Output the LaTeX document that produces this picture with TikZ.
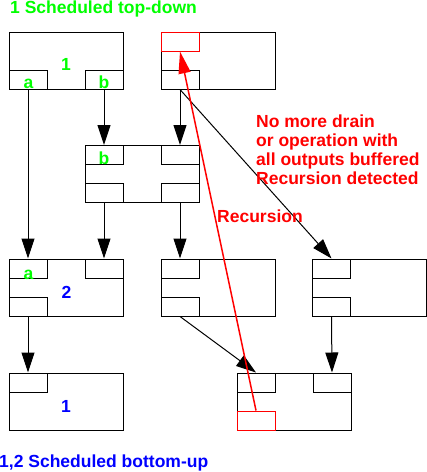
\documentclass[tikz,border=0pt]{standalone}
\usepackage{fontspec}
\setmainfont{Liberation Sans}
\usetikzlibrary{arrows.meta}
\definecolor{fgreen}{RGB}{0,255,0}
\definecolor{fred}{RGB}{255,0,0}
\definecolor{fblue}{RGB}{0,0,255}
\tikzset{
  opbox/.style={draw=black, line width=1pt, rectangle, inner sep=0pt, minimum width=114pt, minimum height=57pt},
  subbox/.style={draw=black, line width=1pt, rectangle, inner sep=0pt, minimum width=38pt, minimum height=19pt},
  redsub/.style={subbox, draw=fred},
  lbl/.style={inner sep=0pt, font=\bfseries\fontsize{17.5}{19}\selectfont},
  arr/.style={line width=1pt, -{Triangle[length=20pt,width=13pt]}},
  redarr/.style={draw=fred, line width=1.5pt, -{Triangle[length=22pt,width=12pt]}, fill=fred},
}
\begin{document}
\begin{tikzpicture}[x=1pt, y=-1pt]
\useasboundingbox (0,0) rectangle (427,472);
% boxes
\node[opbox] (A) at (66,60.5) {};
\node[opbox] (B) at (218,60.5) {};
\node[opbox] (C) at (142,174) {};
\node[opbox] (D) at (66,287.5) {};
\node[opbox] (E) at (218,287.5) {};
\node[opbox] (F) at (369.5,287.5) {};
\node[opbox] (G) at (66,401.5) {};
\node[opbox] (H) at (294,401.5) {};
% sub boxes
\node[subbox, anchor=south west] (Aa) at (A.south west) {};
\node[subbox, anchor=south east] (Ab) at (A.south east) {};
\node[subbox, anchor=south west] (Bbl) at (B.south west) {};
\node[subbox, anchor=north west] (Ctl) at (C.north west) {};
\node[subbox, anchor=north east] (Ctr) at (C.north east) {};
\node[subbox, anchor=south west] (Cbl) at (C.south west) {};
\node[subbox, anchor=south east] (Cbr) at (C.south east) {};
\node[subbox, anchor=north west] (Dtl) at (D.north west) {};
\node[subbox, anchor=north east] (Dtr) at (D.north east) {};
\node[subbox, anchor=south west] (Dbl) at (D.south west) {};
\node[subbox, anchor=north west] (Etl) at (E.north west) {};
\node[subbox, anchor=south west] (Ebl) at (E.south west) {};
\node[subbox, anchor=north west] (Ftl) at (F.north west) {};
\node[subbox, anchor=south west] (Fbl) at (F.south west) {};
\node[subbox, anchor=north west] (Gtl) at (G.north west) {};
\node[subbox, anchor=north west] (Htl) at (H.north west) {};
\node[subbox, anchor=north east] (Htr) at (H.north east) {};
\node[redsub, anchor=north west] (Btl) at (B.north west) {};
\node[redsub, anchor=south west] (Hbl) at (H.south west) {};
% labels in boxes
\node[lbl, text=fgreen, anchor=base] (l1) at (66,70) {1};
\node[lbl, text=fgreen, anchor=base] (la1) at (28.5,88) {a};
\node[lbl, text=fgreen, anchor=base] (lb1) at (104,88) {b};
\node[lbl, text=fgreen, anchor=base] (lb2) at (104,164) {b};
\node[lbl, text=fgreen, anchor=base] (la2) at (28.5,279) {a};
\node[lbl, text=fblue, anchor=base] (l2) at (66.5,298) {2};
\node[lbl, text=fblue, anchor=base] (l1b) at (66,412) {1};
% arrows
\draw[arr] (Aa.south) -- (Dtl.north);
\draw[arr] (Ab.south) -- (Ctl.north);
\draw[arr] (Bbl.south) -- (Ctr.north);
\draw[arr] (Bbl.south) -- (Ftl.north);
\draw[arr] (Cbl.south) -- (Dtr.north);
\draw[arr] (Cbr.south) -- (Etl.north);
\draw[arr] (Dbl.south) -- (Gtl.north);
\draw[arr] (Ebl.south) -- (Htl.north);
\draw[arr] (Fbl.south) -- (Htr.north);
\draw[redarr] (Hbl.north) -- (Btl.south);
% texts
\node[lbl, text=fgreen, anchor=base west] (t1) at (10,13.5) {1 Scheduled top-down};
\node[lbl, text=fblue, anchor=base west] (t2) at (-1,467) {1,2 Scheduled bottom-up};
\node[lbl, text=fred, anchor=base west] (r1) at (256,127) {No more drain};
\node[lbl, text=fred, anchor=base west] (r2) at (256,146) {or operation with};
\node[lbl, text=fred, anchor=base west] (r3) at (256,165) {all outputs buffered};
\node[lbl, text=fred, anchor=base west] (r4) at (256,184) {Recursion detected};
\node[lbl, text=fred, anchor=base west] (rec) at (217,222) {Recursion};
\end{tikzpicture}
\end{document}
